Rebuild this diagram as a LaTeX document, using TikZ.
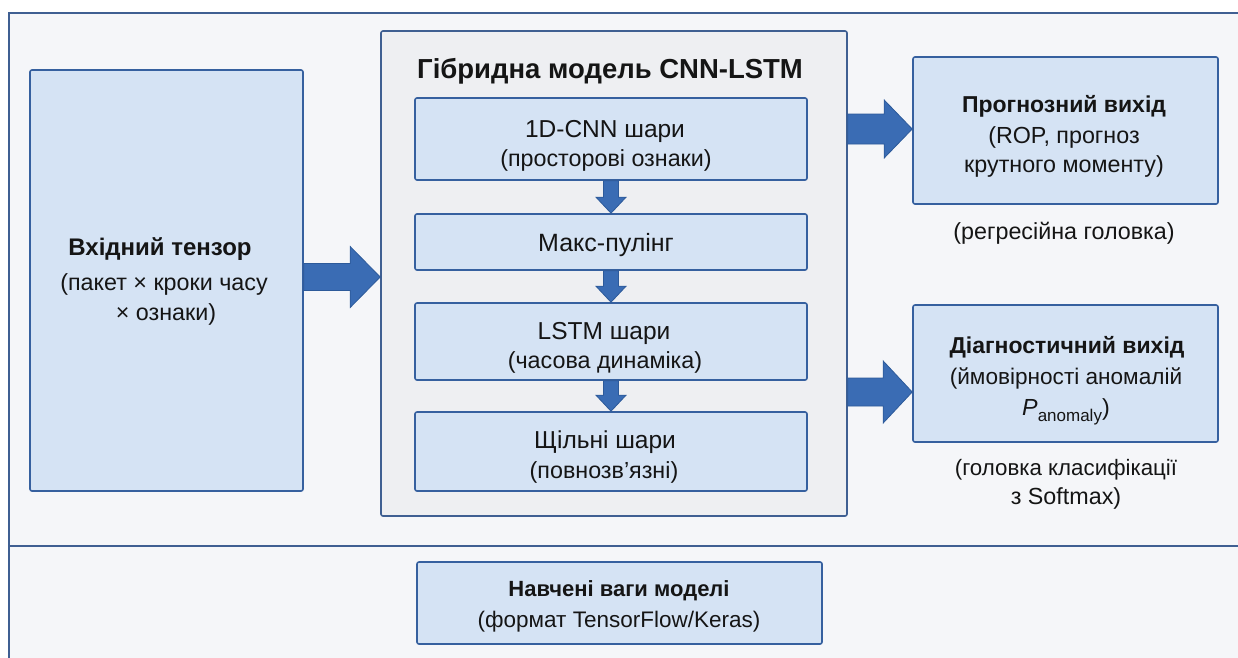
\documentclass[tikz,border=0pt]{standalone}
\usepackage{fontspec}
\setmainfont{Liberation Sans}
\usetikzlibrary{calc}
\definecolor{bgc}{HTML}{F5F6F9}
\definecolor{framec}{HTML}{3F5F92}
\definecolor{boxfill}{HTML}{D5E3F4}
\definecolor{boxline}{HTML}{36609F}
\definecolor{midfill}{HTML}{EEEFF2}
\definecolor{arrfill}{HTML}{3A6CB4}
\definecolor{arrline}{HTML}{2D5A9A}
\definecolor{txt}{HTML}{151515}
\tikzset{
  blbox/.style={draw=boxline, fill=boxfill, line width=1.6pt, rounded corners=2pt, inner sep=0pt},
  midbox/.style={draw=framec, fill=midfill, line width=1.6pt, rounded corners=2pt, inner sep=0pt},
  fatarr/.style={fill=arrfill, draw=arrline, line width=0.8pt, line join=miter},
  hd/.style={anchor=base, text=txt, inner sep=0pt, font=\bfseries\fontsize{24}{28}\selectfont},
  hdm/.style={anchor=base, text=txt, inner sep=0pt, font=\fontsize{24.5}{28}\selectfont},
  sub/.style={anchor=base, text=txt, inner sep=0pt, font=\fontsize{23.3}{27}\selectfont},
}
\begin{document}
\begin{tikzpicture}[x=1pt,y=-1pt]
\clip (0,0) rectangle (1238,657);
\fill[white] (0,0) rectangle (1238,657);
% frame
\draw[framec, fill=bgc, line width=1.8pt] (9,13) rectangle (1250,546);
\draw[framec, fill=bgc, line width=1.8pt] (9,546) rectangle (1250,670);

% input box
\node[blbox, minimum width=273, minimum height=421] (in) at (166.5,280.5) {};
\node[hd] (inT) at (160,255) {Вхідний тензор};
\node[sub] (inS1) at (164,290) {(пакет × кроки часу};
\node[sub] (inS2) at (166,320) {× ознаки)};

% middle container
\node[midbox, minimum width=466, minimum height=485] (mid) at (614,273.5) {};
\node[hd, font=\bfseries\fontsize{27.5}{32}\selectfont] (midT) at (610,78) {Гібридна модель CNN-LSTM};

\node[blbox, minimum width=392, minimum height=82] (b1) at (611,139) {};
\node[hdm] (b1T) at (605,137) {1D-CNN шари};
\node[sub] (b1S) at (606,166) {(просторові ознаки)};

\node[blbox, minimum width=392, minimum height=56] (b2) at (611,242) {};
\node[hdm, font=\fontsize{25}{28}\selectfont] (b2T) at (606,251) {Макс-пулінг};

\node[blbox, minimum width=392, minimum height=77] (b3) at (611,341.5) {};
\node[hdm] (b3T) at (604,339) {LSTM шари};
\node[sub] (b3S) at (605,368) {(часова динаміка)};

\node[blbox, minimum width=392, minimum height=79] (b4) at (611,451.5) {};
\node[hdm] (b4T) at (605,448) {Щільні шари};
\node[sub] (b4S) at (604,478) {(повнозв’язні)};

% outputs
\node[blbox, minimum width=305, minimum height=147] (o1) at (1065.5,130.5) {};
\node[hd, font=\bfseries\fontsize{23}{27}\selectfont] (o1T) at (1064,112) {Прогнозний вихід};
\node[sub] (o1S1) at (1064,143) {(ROP, прогноз};
\node[sub] (o1S2) at (1064,172) {крутного моменту)};
\node[sub] (o1L) at (1064,239) {(регресійна головка)};

\node[blbox, minimum width=305, minimum height=137] (o2) at (1065.5,373.5) {};
\node[hd, font=\bfseries\fontsize{23}{27}\selectfont] (o2T) at (1067,353) {Діагностичний вихід};
\node[sub, font=\fontsize{22.6}{27}\selectfont] (o2S1) at (1066,384) {(ймовірності аномалій};
\node[sub] (o2S2) at (1066,415) {\textit{P}\raisebox{-0.28em}{\fontsize{17}{20}\selectfont anomaly})};
\node[sub, font=\fontsize{22.3}{27}\selectfont] (o2L1) at (1066,475) {(головка класифікації};
\node[sub] (o2L2) at (1066,504) {з Softmax)};

% weights
\node[blbox, minimum width=405, minimum height=82] (w) at (619.5,603) {};
\node[hd, font=\bfseries\fontsize{22}{26}\selectfont] (wT) at (619,596) {Навчені ваги моделі};
\node[sub, font=\fontsize{22.5}{26}\selectfont] (wS) at (619,627) {(формат TensorFlow/Keras)};

% arrows: horizontal
\coordinate (a1s) at (in.east |- 0,277);
\coordinate (a1e) at (mid.west |- 0,277);
\draw[fatarr] ($(a1s)+(0,-13.5)$) -- ($(a1e)+(-30,-13.5)$) -- ($(a1e)+(-30,-30.5)$) -- (a1e)
  -- ($(a1e)+(-30,30.5)$) -- ($(a1e)+(-30,13.5)$) -- ($(a1s)+(0,13.5)$) -- cycle;

\coordinate (a2s) at (mid.east |- 0,129);
\coordinate (a2e) at (o1.west |- 0,129);
\draw[fatarr] ($(a2s)+(0,-15)$) -- ($(a2e)+(-28,-15)$) -- ($(a2e)+(-28,-29)$) -- (a2e)
  -- ($(a2e)+(-28,29)$) -- ($(a2e)+(-28,15)$) -- ($(a2s)+(0,15)$) -- cycle;

\coordinate (a3s) at (mid.east |- 0,392);
\coordinate (a3e) at (o2.west |- 0,392);
\draw[fatarr] ($(a3s)+(0,-14)$) -- ($(a3e)+(-29,-14)$) -- ($(a3e)+(-29,-31)$) -- (a3e)
  -- ($(a3e)+(-29,31)$) -- ($(a3e)+(-29,14)$) -- ($(a3s)+(0,14)$) -- cycle;

% arrows: vertical
\foreach \u/\v in {b1/b2, b2/b3, b3/b4}{
  \draw[fatarr] ($(\u.south)+(-7.5,0)$) -- ($(\v.north)+(-7.5,-16)$) -- ($(\v.north)+(-15,-16)$) -- (\v.north)
    -- ($(\v.north)+(15,-16)$) -- ($(\v.north)+(7.5,-16)$) -- ($(\u.south)+(7.5,0)$) -- cycle;
}
\end{tikzpicture}
\end{document}
